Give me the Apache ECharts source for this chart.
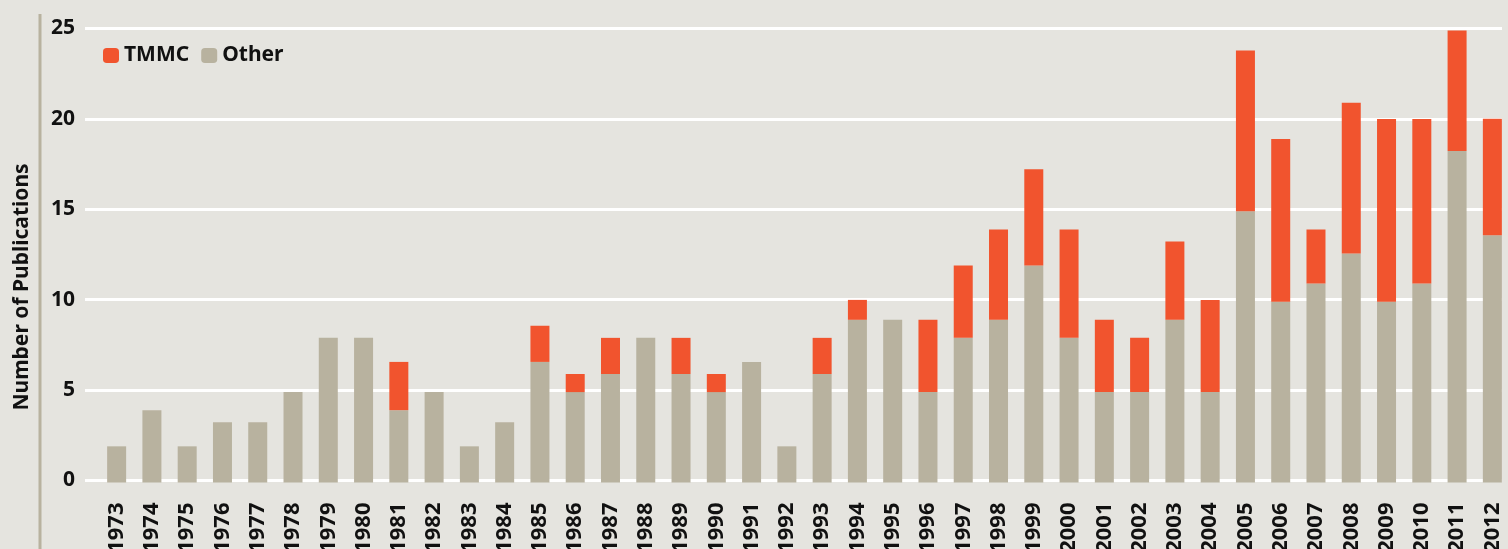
<!DOCTYPE html>
<html>
<head>
<meta charset="utf-8">
<script src="https://cdn.jsdelivr.net/npm/echarts@6/dist/echarts.min.js"></script>
<style>
  html, body { margin: 0; padding: 0; background: #e5e4df; }
  #chart { width: 1508px; height: 549px; }
</style>
</head>
<body>
<div id="chart"></div>
<script>
// publication counts per year
const years = [
  "1973", "1974", "1975", "1976", "1977", "1978", "1979", "1980", "1981", "1982",
  "1983", "1984", "1985", "1986", "1987", "1988", "1989", "1990", "1991", "1992",
  "1993", "1994", "1995", "1996", "1997", "1998", "1999", "2000", "2001", "2002",
  "2003", "2004", "2005", "2006", "2007", "2008", "2009", "2010", "2011", "2012"
];
const otherValues = [
  2, 4, 2, 3.33, 3.33, 5, 8, 8, 4, 5,
  2, 3.33, 6.67, 5, 6, 8, 6, 5, 6.67, 2,
  6, 9, 9, 5, 8, 9, 12, 8, 5, 5,
  9, 5, 15, 10, 11, 12.67, 10, 11, 18.33, 13.67
];
const tmmcValues = [
  0, 0, 0, 0, 0, 0, 0, 0, 2.67, 0,
  0, 0, 2, 1, 2, 0, 2, 1, 0, 0,
  2, 1.1, 0, 4, 4, 5, 5.33, 6, 4, 3,
  4.33, 5.1, 8.9, 9, 3, 8.33, 10.1, 9.1, 6.83, 6.45
];
const yTicks = { min: 0, max: 25, interval: 5 };

const FONT = "Noto Sans";
const ORANGE = "#f1542e";
const TAN = "#b8b29f";

const chart = echarts.init(document.getElementById("chart"));
chart.setOption({
  backgroundColor: "#e5e4df",
  animation: false,
  textStyle: { fontFamily: FONT },
  legend: {
    left: 98,
    top: 40,
    itemWidth: 16,
    itemHeight: 15,
    itemGap: 12,
    textStyle: { fontSize: 21, fontWeight: "bold", color: "#111" },
    data: [
      { name: "TMMC", itemStyle: { color: ORANGE } },
      { name: "Other", itemStyle: { color: TAN } }
    ]
  },
  grid: [
    // grid for the white grid lines + y labels
    { left: 85, right: 6, top: 28.5, bottom: 68.5, outerBoundsMode: "none" },
    // grid for the bars
    { left: 99, width: 1411, top: 30.5, bottom: 66.5, outerBoundsMode: "none" }
  ],
  xAxis: [
    { gridIndex: 0, type: "value", min: 0, max: 1, show: false },
    {
      gridIndex: 1,
      type: "category",
      data: years,
      axisLine: { show: false },
      axisTick: { show: false },
      axisLabel: {
        interval: 0,
        rotate: 90,
        margin: 20,
        fontSize: 22,
        fontWeight: "bold",
        color: "#111"
      }
    }
  ],
  yAxis: [
    {
      gridIndex: 0,
      type: "value",
      min: yTicks.min,
      max: yTicks.max,
      interval: yTicks.interval,
      axisLine: { show: false },
      axisTick: { show: false },
      axisLabel: { margin: 10, fontSize: 21, fontWeight: "bold", color: "#111" },
      splitLine: { lineStyle: { color: "#ffffff", width: 3 } }
    },
    {
      gridIndex: 1,
      type: "value",
      min: yTicks.min,
      max: yTicks.max,
      interval: yTicks.interval,
      show: false,
      splitLine: { show: false }
    }
  ],
  graphic: [
    {
      type: "line",
      shape: { x1: 40, y1: 14, x2: 40, y2: 549 },
      style: { stroke: TAN, lineWidth: 3 }
    },
    {
      type: "text",
      x: 22,
      y: 287,
      rotation: Math.PI / 2,
      style: {
        text: "Number of Publications",
        font: "bold 21px " + FONT,
        fill: "#111",
        textAlign: "center",
        textVerticalAlign: "middle"
      }
    }
  ],
  series: [
    {
      name: "Other",
      type: "bar",
      stack: "pubs",
      xAxisIndex: 1,
      yAxisIndex: 1,
      barWidth: 19,
      itemStyle: { color: TAN },
      data: otherValues
    },
    {
      name: "TMMC",
      type: "bar",
      stack: "pubs",
      xAxisIndex: 1,
      yAxisIndex: 1,
      barWidth: 19,
      itemStyle: { color: ORANGE },
      data: tmmcValues
    }
  ]
});
</script>
</body>
</html>
